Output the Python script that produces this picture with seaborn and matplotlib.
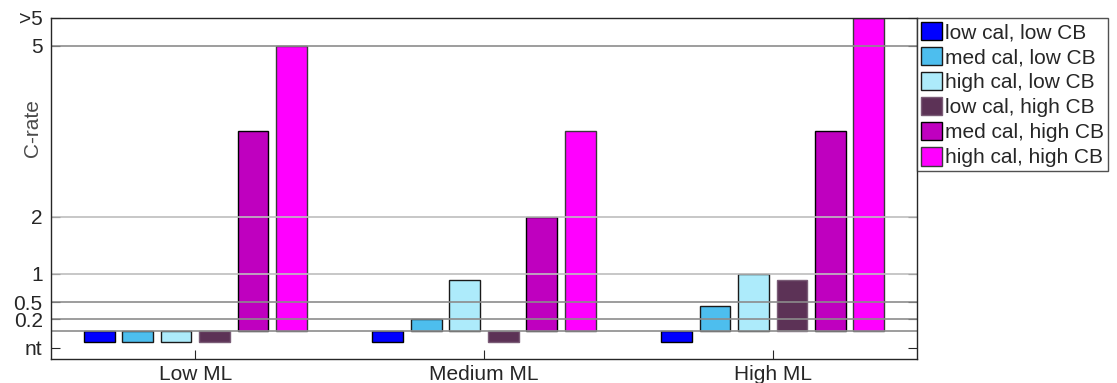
import matplotlib
matplotlib.use("Agg")
import matplotlib.pyplot as plt
import seaborn as sns
import pandas as pd

# Loading levels (x groups) and calendar/CB combinations (bar series)
groups = ["Low ML", "Medium ML", "High ML"]
series = ["low cal, low CB", "med cal, low CB", "high cal, low CB",
          "low cal, high CB", "med cal, high CB", "high cal, high CB"]

# C-rate per series across groups; -0.2 marks "nt" (not tested), 5.5 marks ">5"
low_cal_low_cb = [-0.2, -0.2, -0.2]
med_cal_low_cb = [-0.2, 0.2, 0.43]
high_cal_low_cb = [-0.2, 0.88, 1.0]
low_cal_high_cb = [-0.2, -0.2, 0.88]
med_cal_high_cb = [3.5, 2.0, 3.5]
high_cal_high_cb = [5.0, 3.5, 5.5]

ytick_values = [-0.3, 0.2, 0.5, 1, 2, 5, 5.5]
ytick_labels = ["nt", "0.2", "0.5", "1", "2", "5", ">5"]
grid_dark = [0, 0.2, 0.5, 5]
grid_light = [1, 2]

colors = ["#0000FF", "#4DBEEE", "#ADEBFB", "#5C3256", "#BF00BF", "#FF00FF"]
edges = ["#000000", "#1a1a1a", "#1a1a1a", "#7a5c76", "#000000", "#3a3a3a"]

values = [low_cal_low_cb, med_cal_low_cb, high_cal_low_cb,
          low_cal_high_cb, med_cal_high_cb, high_cal_high_cb]
rows = []
for s, vals in zip(series, values):
    for g, v in zip(groups, vals):
        rows.append({"group": g, "series": s, "value": v})
df = pd.DataFrame(rows)

sns.set_style("white")
plt.rcParams["font.family"] = ["Liberation Sans", "DejaVu Sans"]

FS = 15

fig = plt.figure(figsize=(11.17, 3.83), dpi=100)
ax = fig.add_axes([51 / 1117, 1 - 359 / 383, 866 / 1117, (359 - 17.5) / 383])

sns.barplot(data=df, x="group", y="value", hue="series", order=groups,
            hue_order=series, palette=colors, width=0.8, gap=0.2,
            linewidth=1.0, edgecolor="black", saturation=1, ax=ax, zorder=2)

for cont, ec in zip(ax.containers, edges):
    for patch in cont.patches:
        patch.set_edgecolor(ec)

for y in grid_dark:
    ax.axhline(y, color="#8c8c8c", lw=1.2, zorder=3)
for y in grid_light:
    ax.axhline(y, color="#bdbdbd", lw=1.2, zorder=3)

ax.set_xlim(-0.5, 2.5)
ax.set_ylim(-0.5, 5.5)
ax.set_yticks(ytick_values)
ax.set_yticklabels(ytick_labels)
ax.set_xlabel("")
ax.set_ylabel("C-rate", fontsize=FS, color="#4a4a4a")
ax.yaxis.set_label_coords(-0.0105, 0.676)

ax.tick_params(axis="y", direction="in", length=6.5, width=0.8, color="#262626",
               left=True, right=True, labelsize=FS, labelcolor="#262626", pad=6)
ax.tick_params(axis="x", direction="in", length=6.5, width=0.8, color="#262626",
               bottom=True, labelsize=FS, labelcolor="#262626", pad=4)

for sp in ax.spines.values():
    sp.set_color("#262626")
    sp.set_linewidth(1.0)
    sp.set_visible(True)
    sp.set_zorder(5)

leg = ax.legend(loc="upper left", bbox_to_anchor=(1.0, 1.0), borderaxespad=0,
                frameon=True, fancybox=False, fontsize=FS, handlelength=1.0,
                handleheight=1.0, handletextpad=0.15, labelspacing=0.22,
                borderpad=0.2)
leg.get_frame().set_edgecolor("#262626")
leg.get_frame().set_linewidth(1.0)
for h, ec in zip(leg.legend_handles, edges):
    h.set_edgecolor(ec)

fig.savefig("out.png", dpi=100)
